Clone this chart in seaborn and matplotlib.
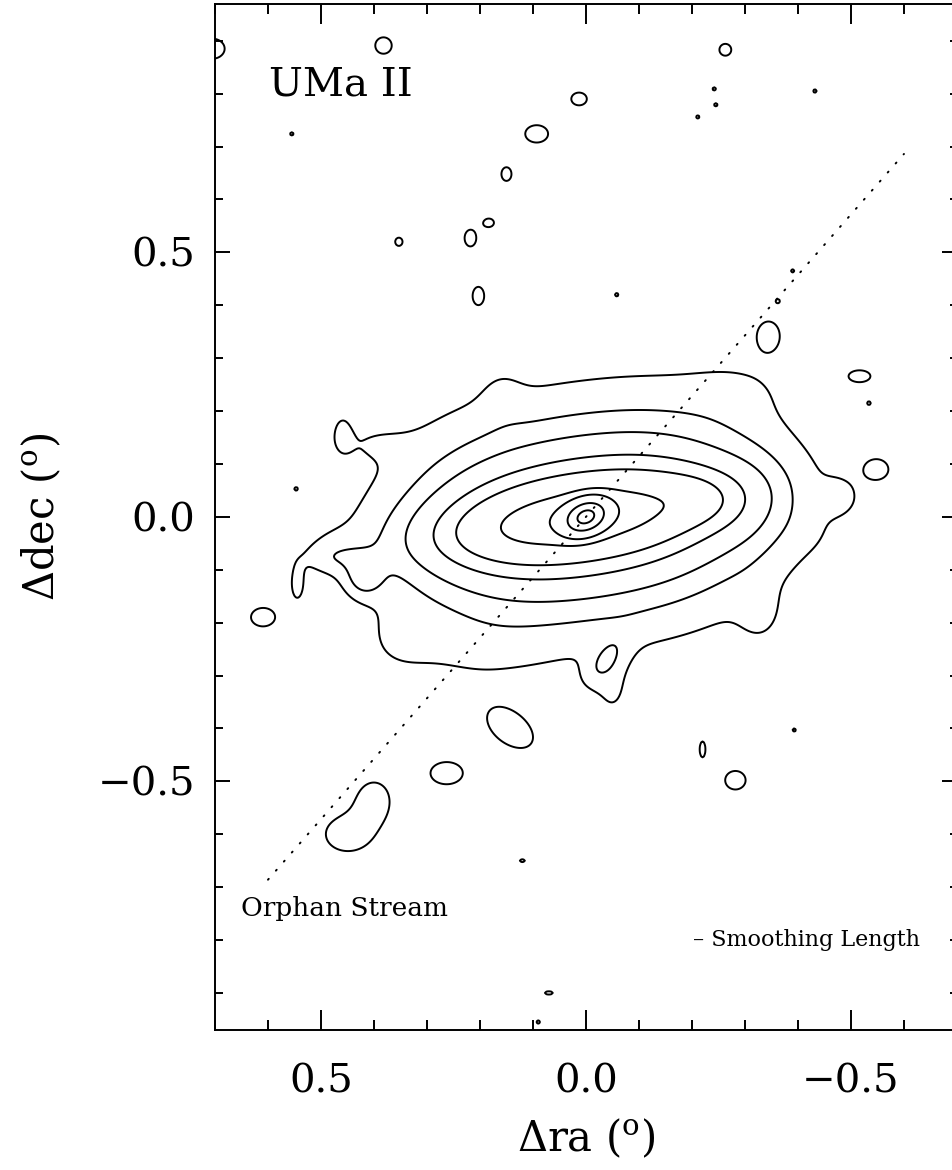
import numpy as np
import matplotlib
matplotlib.use("Agg")
import matplotlib.pyplot as plt
from matplotlib.ticker import MultipleLocator
import seaborn as sns

# Surface density of UMa II, described as gaussian clumps
# (offsets in degrees, position angle in degrees)
# main body: core, bar, three halo clumps, then lumps shaping the outer contours
body_ra = [0.00, 0.04, 0.218, 0.00, -0.218, -0.22, -0.33,
           -0.30, -0.44, -0.33, -0.05, 0.22, 0.36, 0.46, 0.50, 0.545, 0.46, 0.41, 0.16, -0.035, 0.42]
body_dec = [0.00, -0.005, -0.031, 0.00, 0.031, 0.035, 0.02,
            0.25, -0.03, -0.19, -0.34, -0.26, -0.24, -0.07, -0.08, -0.13, 0.16, 0.14, 0.24, -0.275, -0.12]
body_sra = [0.028, 0.25, 0.16, 0.16, 0.16, 0.05, 0.06,
            0.07, 0.04, 0.03, 0.03, 0.10, 0.05, 0.05, 0.04, 0.012, 0.015, 0.05, 0.03, 0.04, 0.025]
body_sdec = [0.020, 0.055, 0.16, 0.16, 0.16, 0.035, 0.08,
             0.04, 0.04, 0.04, 0.05, 0.04, 0.05, 0.03, 0.02, 0.03, 0.03, 0.025, 0.04, 0.02, 0.025]
body_amp = [3.0, 1.2, 2.03, 2.03, 2.03, 0.3, 0.35,
            0.35, 0.2, 0.55, 0.7, 0.3, 0.45, 0.55, 0.5, 1.0, 0.85, 0.45, 0.3, 0.85, 1.0]
body_pa = [-25, -8, 0, 0, 0, 0, 0,
           0, 0, 0, 0, 0, 0, 20, 0, 0, 0, 0, 0, -50, 0]

# isolated overdensities around the galaxy
isl_ra = [0.705, 0.382, 0.013, -0.263, 0.093, 0.150, 0.218, 0.183, 0.353, 0.203,
          -0.345, -0.517, -0.550, -0.481, 0.610, 0.400, 0.450, 0.263, 0.140, 0.120,
          -0.220, -0.282, 0.070]
isl_dec = [0.885, 0.891, 0.790, 0.883, 0.724, 0.648, 0.527, 0.556, 0.520, 0.418,
           0.345, 0.266, 0.090, 0.038, -0.190, -0.535, -0.600, -0.485, -0.405, -0.650,
           -0.440, -0.498, -0.900]
isl_sra = [0.027, 0.018, 0.017, 0.013, 0.025, 0.011, 0.014, 0.012, 0.008, 0.012,
           0.022, 0.022, 0.022, 0.025, 0.026, 0.030, 0.045, 0.035, 0.055, 0.009,
           0.008, 0.022, 0.014]
isl_sdec = [0.022, 0.018, 0.014, 0.013, 0.019, 0.015, 0.020, 0.010, 0.009, 0.019,
            0.028, 0.012, 0.019, 0.025, 0.020, 0.035, 0.035, 0.024, 0.033, 0.005,
            0.022, 0.020, 0.006]
isl_amp = [1.45, 1.45, 1.45, 1.45, 1.45, 1.45, 1.35, 1.35, 1.45, 1.4,
           1.2, 1.35, 1.2, 0.8, 1.35, 1.5, 1.5, 1.4, 1.2, 1.15,
           1.2, 1.45, 1.15]
isl_pa = [0, 0, 0, 0, 0, 0, 0, 0, 0, 0,
          0, 0, 0, 0, 0, 0, 0, 0, 35, 0,
          0, 0, 0]

# single-pixel peaks
dot_ra = [0.555, -0.242, -0.245, -0.211, -0.432, -0.393, -0.534, -0.390, -0.362, -0.058, 0.090, 0.547]
dot_dec = [0.724, 0.809, 0.779, 0.756, 0.805, -0.403, 0.215, 0.465, 0.408, 0.420, -0.955, 0.053]
dot_amp = [1.15, 1.15, 1.15, 1.15, 1.15, 1.1, 1.0, 1.1, 1.05, 1.0, 1.15, 0.9]

contour_levels = [1.0, 1.73, 2.3, 2.98, 3.5, 4.3, 4.85, 6.08, 7.3]

# Orphan Stream track
stream_ra = [0.6, -0.6]
stream_dec = [-0.686, 0.686]

sns.set_style("ticks")
plt.rcParams["font.family"] = ["DejaVu Serif"]
plt.rcParams["mathtext.fontset"] = "dejavuserif"
plt.rcParams["text.color"] = "black"
plt.rcParams["axes.labelcolor"] = "black"
plt.rcParams["xtick.color"] = "black"
plt.rcParams["ytick.color"] = "black"

ra = np.arange(-0.72, 0.72, 0.0025)
dec = np.arange(-0.99, 0.99, 0.0025)
RA, DEC = np.meshgrid(ra, dec)
dens = np.zeros_like(RA)

clumps = list(zip(body_ra, body_dec, body_sra, body_sdec, body_amp, body_pa))
clumps += list(zip(isl_ra, isl_dec, isl_sra, isl_sdec, isl_amp, isl_pa))
clumps += [(x, y, 0.006, 0.006, a, 0) for x, y, a in zip(dot_ra, dot_dec, dot_amp)]
for x0, y0, sx, sy, a, pa in clumps:
    t = np.deg2rad(pa)
    dx, dy = RA - x0, DEC - y0
    u = dx * np.cos(t) + dy * np.sin(t)
    v = -dx * np.sin(t) + dy * np.cos(t)
    dens += a * np.exp(-0.5 * ((u / sx) ** 2 + (v / sy) ** 2))

fig = plt.figure(figsize=(9.52, 11.7), dpi=100)
ax = fig.add_axes([0.2258, 0.1197, 0.7794, 0.8771])
ax.set_facecolor("white")

ax.contour(RA, DEC, dens, levels=contour_levels, colors="black",
           linewidths=1.4, linestyles="solid")
sns.lineplot(x=stream_ra, y=stream_dec, ax=ax, color="black", sort=False,
             linestyle=(0, (0.6, 5.6)), linewidth=1.4, dash_capstyle="round")

ax.set_xlim(0.70, -0.70)
ax.set_ylim(-0.97, 0.97)

ax.xaxis.set_major_locator(MultipleLocator(0.5))
ax.xaxis.set_minor_locator(MultipleLocator(0.1))
ax.yaxis.set_major_locator(MultipleLocator(0.5))
ax.yaxis.set_minor_locator(MultipleLocator(0.1))
ax.tick_params(axis="x", which="major", direction="in", length=14.4, width=1.4,
               top=True, bottom=True, labelsize=29, pad=24)
ax.tick_params(axis="x", which="minor", direction="in", length=7.2, width=1.4,
               top=True, bottom=True)
ax.tick_params(axis="y", which="major", direction="in", length=10.8, width=1.4,
               left=True, right=True, labelsize=29, pad=14)
ax.tick_params(axis="y", which="minor", direction="in", length=5.4, width=1.4,
               left=True, right=True)
for sp in ax.spines.values():
    sp.set_linewidth(1.4)
    sp.set_color("black")

ax.set_xlabel(r"$\Delta$ra ($^{\mathrm{o}}$)", fontsize=30)
ax.set_ylabel(r"$\Delta$dec ($^{\mathrm{o}}$)", fontsize=30)
ax.xaxis.set_label_coords(0.5, -0.085)
ax.xaxis.label.set_va("top")
ax.yaxis.set_label_coords(-0.205, 0.5)

ax.text(0.598, 0.796, "UMa II", fontsize=29, ha="left", va="baseline")
ax.text(0.651, -0.754, "Orphan Stream", fontsize=19, ha="left", va="baseline")
ax.text(-0.202, -0.80, "\u2013 Smoothing Length", fontsize=16, ha="left", va="center")

fig.savefig("out.png", dpi=100)
